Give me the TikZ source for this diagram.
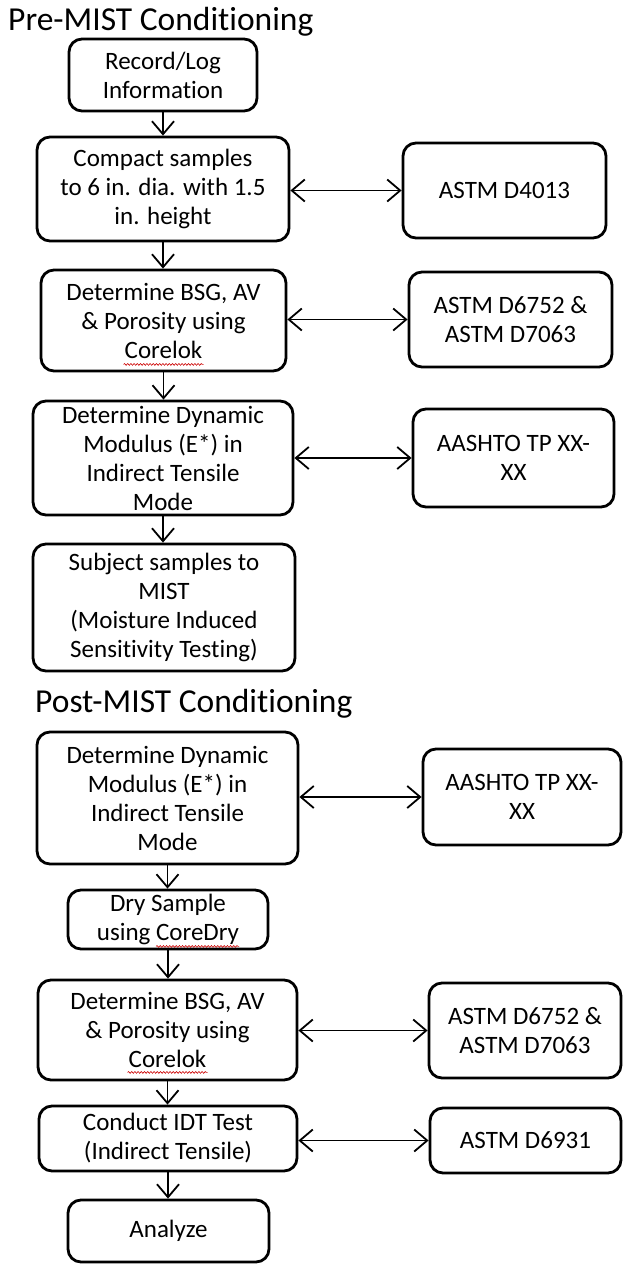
\documentclass[tikz,border=0pt]{standalone}
\usepackage{fontspec}
\setmainfont{Carlito}[Ligatures=NoCommon]
\usetikzlibrary{arrows.meta,decorations.pathmorphing}
\begin{document}
\begin{tikzpicture}[x=1pt,y=-1pt,
  box/.style={draw,line width=2.8pt,rounded corners=13pt,inner sep=0pt,align=center,
    font=\fontsize{25}{29}\selectfont},
  flow/.style={line width=1.8pt,-{Straight Barb[length=13pt,width=22pt,line width=1.8pt]}},
  both/.style={line width=1.8pt,{Straight Barb[length=13pt,width=22pt,line width=1.8pt]}-{Straight Barb[length=13pt,width=22pt,line width=1.8pt]}},
  ttl/.style={anchor=base west,inner sep=0pt,font=\fontsize{33.5}{38}\selectfont},
  squig/.style={red!80!black,line width=0.6pt,decorate,decoration={snake,amplitude=0.9pt,segment length=3.2pt}}]
\useasboundingbox (0,0) rectangle (623,1264);
\fill[white] (0,0) rectangle (623,1264);

\node[ttl] (t1) at (8,30) {Pre-MIST Conditioning};
\node[ttl] (t2) at (35,712) {Post-MIST Conditioning};

% left column, pre
\node[box,minimum width=188pt,minimum height=72pt] (rec) at (163,75) {Record/Log\\Information};
\node[box,minimum width=252pt,minimum height=104pt] (cmp) at (163,189) {Compact samples\\to 6 in. dia. with 1.5\\in. height};
\node[box,minimum width=245pt,minimum height=101pt] (bsga) at (163.5,320.5) {Determine BSG, AV\\\& Porosity using\\Corelok};
\node[box,minimum width=260pt,minimum height=114pt] (dyna) at (163,458) {Determine Dynamic\\Modulus (E*) in\\Indirect Tensile\\Mode};
\node[box,minimum width=262pt,minimum height=127pt] (mist) at (164,607.5) {Subject samples to\\MIST\\(Moisture Induced\\Sensitivity Testing)};

% left column, post
\node[box,minimum width=261pt,minimum height=132pt] (dynb) at (167.5,798) {Determine Dynamic\\Modulus (E*) in\\Indirect Tensile\\Mode};
\node[box,minimum width=200pt,minimum height=59pt] (dry) at (168,919.5) {Dry Sample\\using CoreDry};
\node[box,minimum width=259pt,minimum height=100pt] (bsgb) at (167.5,1030) {Determine BSG, AV\\\& Porosity using\\Corelok};
\node[box,minimum width=258pt,minimum height=65pt] (idt) at (168,1138.5) {Conduct IDT Test\\(Indirect Tensile)};
\node[box,minimum width=201pt,minimum height=62pt] (ana) at (168.5,1231) {Analyze};

% right column
\node[box,minimum width=203pt,minimum height=95pt] (sa) at (504.5,190.5) {ASTM D4013};
\node[box,minimum width=203pt,minimum height=95pt] (sb) at (510.5,319.5) {ASTM D6752 \&\\ASTM D7063};
\node[box,minimum width=201pt,minimum height=98pt] (sc) at (513.5,458) {AASHTO TP XX-\\XX};
\node[box,minimum width=198pt,minimum height=96pt] (sd) at (522,797) {AASHTO TP XX-\\XX};
\node[box,minimum width=192pt,minimum height=95pt] (se) at (525,1030.5) {ASTM D6752 \&\\ASTM D7063};
\node[box,minimum width=191pt,minimum height=65pt] (sf) at (525.5,1140.5) {ASTM D6931};

% vertical flow
\draw[flow] (rec.south) -- (rec.south |- cmp.north);
\draw[flow] (cmp.south) -- (cmp.south |- bsga.north);
\draw[flow] (bsga.south) -- (bsga.south |- dyna.north);
\draw[flow] (dyna.south) -- (dyna.south |- mist.north);
\draw[flow] (dynb.south) -- (dynb.south |- dry.north);
\draw[flow] (dry.south) -- (dry.south |- bsgb.north);
\draw[flow] (bsgb.south) -- (bsgb.south |- idt.north);
\draw[flow] (idt.south) -- (idt.south |- ana.north);

% horizontal links
\draw[both] (cmp.east |- sa) -- (sa.west);
\draw[both] (bsga.east |- sb) -- (sb.west);
\draw[both] (dyna.east |- sc) -- (sc.west);
\draw[both] (dynb.east |- sd) -- (sd.west);
\draw[both] (bsgb.east |- se) -- (se.west);
\draw[both] (idt.east |- sf) -- (sf.west);

% spell-check squiggles
\draw[squig] ([xshift=-40pt,yshift=8pt]bsga.south) -- ([xshift=40pt,yshift=8pt]bsga.south);
\draw[squig] ([xshift=-40pt,yshift=9pt]bsgb.south) -- ([xshift=40pt,yshift=9pt]bsgb.south);
\draw[squig] ([xshift=-12pt,yshift=4pt]dry.south) -- ([xshift=71pt,yshift=4pt]dry.south);
\end{tikzpicture}
\end{document}
